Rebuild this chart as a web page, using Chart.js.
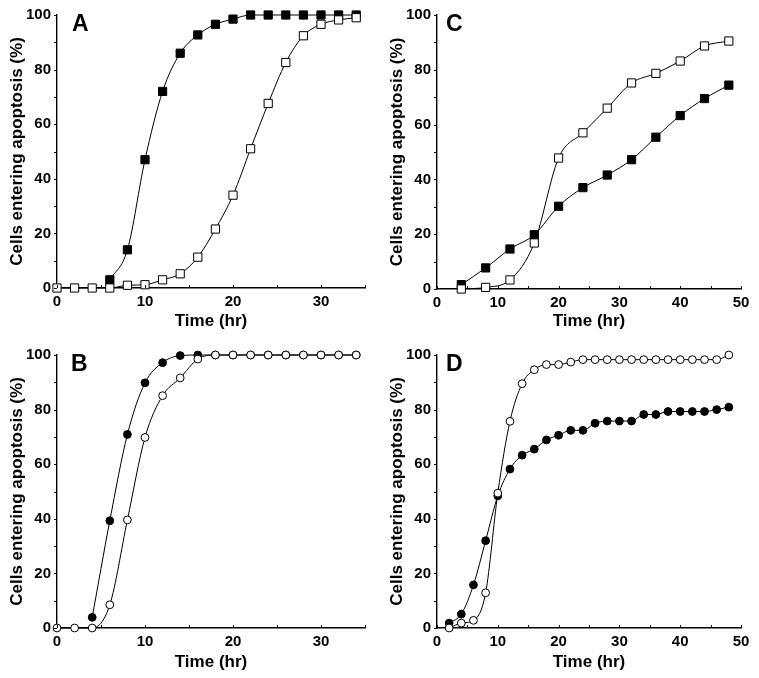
<!DOCTYPE html>
<html>
<head>
<meta charset="utf-8">
<title>Cells entering apoptosis</title>
<script src="https://cdn.jsdelivr.net/npm/chart.js@4/dist/chart.umd.min.js"></script>
<style>
  body { margin: 0; background: #fff; }
  #wrap { position: relative; width: 759px; height: 678px; overflow: hidden; }
  canvas { position: absolute; }
  .tag { position: absolute; font: bold 23px 'Liberation Sans', Arial, sans-serif; line-height: 23px; color: #000; }
</style>
</head>
<body>
<div id="wrap">
  <canvas id="cA" style="left:0;top:0"></canvas>
  <canvas id="cC" style="left:380px;top:0"></canvas>
  <canvas id="cB" style="left:0;top:336px"></canvas>
  <canvas id="cD" style="left:380px;top:336px"></canvas>
  <div class="tag" style="left:72px;top:12px">A</div>
  <div class="tag" style="left:446px;top:12px">C</div>
  <div class="tag" style="left:71px;top:352px">B</div>
  <div class="tag" style="left:446px;top:352px">D</div>
</div>
<script>
// panel A - squares
var timeA_filled = [6, 8, 10, 12, 14, 16, 18, 20, 22, 24, 26, 28, 30, 32, 34];
var pctA_filled  = [3, 14, 47, 72, 86, 92.7, 96.6, 98.5, 100, 100, 100, 100, 100, 100, 100];
var timeA_open   = [0, 2, 4, 6, 8, 10, 12, 14, 16, 18, 20, 22, 24, 26, 28, 30, 32, 34];
var pctA_open    = [0, 0, 0, 0, 1, 1.2, 3, 5.2, 11.3, 21.6, 34, 51, 67.6, 82.6, 92.4, 96.6, 98.2, 99];

// panel B - circles
var timeB_filled = [4, 6, 8, 10, 12, 14, 16, 18, 20, 22, 24, 26, 28, 30, 32, 34];
var pctB_filled  = [3.9, 39.3, 70.9, 89.8, 97.2, 99.8, 100, 100, 100, 100, 100, 100, 100, 100, 100, 100];
var timeB_open   = [0, 2, 4, 6, 8, 10, 12, 14, 16, 18, 20, 22, 24, 26, 28, 30, 32, 34];
var pctB_open    = [0, 0, 0, 8.5, 39.6, 69.8, 85.1, 91.6, 98.5, 100, 100, 100, 100, 100, 100, 100, 100, 100];

// panel C - squares
var timeC        = [4, 8, 12, 16, 20, 24, 28, 32, 36, 40, 44, 48];
var pctC_filled  = [1.6, 7.7, 14.6, 19.8, 30.2, 37, 41.6, 47.2, 55.4, 63.3, 69.5, 74.4];
var pctC_open    = [0, 0.6, 3.3, 16.8, 47.8, 57, 66, 75.2, 78.7, 83.2, 88.7, 90.5];

// panel D - circles
var timeD        = [2, 4, 6, 8, 10, 12, 14, 16, 18, 20, 22, 24, 26, 28, 30, 32, 34, 36, 38, 40, 42, 44, 46, 48];
var pctD_filled  = [1.8, 5.1, 15.8, 32, 48.4, 58.2, 63.3, 65.5, 68.9, 70.6, 72.4, 72.4, 75, 75.8, 75.8, 75.8, 78.2, 78.2, 79.3, 79.3, 79.3, 79.3, 80, 80.9];
var pctD_open    = [0, 1.8, 2.8, 12.9, 49.4, 75.7, 89.5, 94.6, 96.5, 96.5, 97.4, 98.3, 98.3, 98.3, 98.3, 98.3, 98.3, 98.3, 98.3, 98.3, 98.3, 98.3, 98.3, 100];

var yTicks = [0, 20, 40, 60, 80, 100];

var FONT = "'Liberation Sans', Arial, Helvetica, sans-serif";

function pts(xs, ys) {
  return xs.map(function (x, i) { return { x: x, y: ys[i] }; });
}

// small tick marks: x ticks point up into the plot, y ticks point out
var smallTicks = {
  id: 'smallTicks',
  afterDraw: function (chart) {
    var ctx = chart.ctx, a = chart.chartArea;
    var xs = chart.scales.x, ys = chart.scales.y;
    ctx.save();
    ctx.strokeStyle = '#111';
    ctx.lineWidth = 1;
    ctx.beginPath();
    for (var v = xs.min; v <= xs.max; v += 5) {
      var px = Math.round(xs.getPixelForValue(v)) + 0.5;
      ctx.moveTo(px, a.bottom);
      ctx.lineTo(px, a.bottom - 3);
    }
    for (var w = 0; w <= 100; w += 10) {
      var py = Math.round(ys.getPixelForValue(w)) + 0.5;
      ctx.moveTo(a.left, py);
      ctx.lineTo(a.left - 3, py);
    }
    ctx.stroke();
    ctx.restore();
  }
};

function makeChart(id, w, h, pad, xMax, openData, filledData, shape) {
  var cv = document.getElementById(id);
  cv.width = w; cv.height = h;
  cv.style.width = w + 'px'; cv.style.height = h + 'px';
  var r = shape === 'rect' ? 5.8 : 3.9;
  return new Chart(cv.getContext('2d'), {
    type: 'line',
    data: {
      datasets: [
        {
          data: openData,
          borderColor: '#000', borderWidth: 1,
          pointStyle: shape, pointRadius: r,
          pointBackgroundColor: '#fff', pointBorderColor: '#000', pointBorderWidth: 1,
          cubicInterpolationMode: 'monotone', fill: false, clip: false, order: 1
        },
        {
          data: filledData,
          borderColor: '#000', borderWidth: 1,
          pointStyle: shape, pointRadius: r,
          pointBackgroundColor: '#000', pointBorderColor: '#000', pointBorderWidth: 1,
          cubicInterpolationMode: 'monotone', fill: false, clip: false, order: 2
        }
      ]
    },
    options: {
      responsive: false,
      animation: false,
      events: [],
      layout: { padding: pad },
      plugins: { legend: { display: false }, tooltip: { enabled: false } },
      scales: {
        x: {
          type: 'linear', min: 0, max: xMax,
          afterFit: function (s) { s.height = pad.xh; },
          afterBuildTicks: function (s) {
            s.ticks = s.ticks.filter(function (t) { return t.value % 10 === 0; });
          },
          grid: { display: true, drawOnChartArea: false, drawTicks: false },
          border: { display: true, color: '#000', width: 1.4 },
          ticks: { stepSize: 10, padding: 5, color: '#000', font: { family: FONT, size: 15, weight: 'bold' } },
          title: { display: true, text: 'Time (hr)', color: '#000', padding: { top: 0, bottom: pad.tb },
                   font: { family: FONT, size: 17, weight: 'bold' } }
        },
        y: {
          type: 'linear', min: 0, max: 100,
          afterFit: function (s) { s.width = 57; },
          afterBuildTicks: function (s) {
            s.ticks = yTicks.map(function (v) { return { value: v }; });
          },
          grid: { display: true, drawOnChartArea: false, drawTicks: false },
          border: { display: true, color: '#000', width: 1.4 },
          ticks: { padding: 6, color: '#000', font: { family: FONT, size: 15, weight: 'bold' } },
          title: { display: true, text: 'Cells entering apoptosis (%)', color: '#000', padding: { top: 7, bottom: 0 },
                   font: { family: FONT, size: 17, weight: 'bold' } }
        }
      }
    },
    plugins: [smallTicks]
  });
}

makeChart('cA', 380, 336, { left: 0, right: 15, top: 15, bottom: 0, xh: 48, tb: 4 }, 35,
  pts(timeA_open, pctA_open), pts(timeA_filled, pctA_filled), 'rect');
makeChart('cC', 379, 336, { left: 0, right: 18, top: 15, bottom: 0, xh: 47, tb: 4 }, 50,
  pts(timeC, pctC_open), pts(timeC, pctC_filled), 'rect');
makeChart('cB', 380, 342, { left: 0, right: 15, top: 19, bottom: 0, xh: 50, tb: 5 }, 35,
  pts(timeB_open, pctB_open), pts(timeB_filled, pctB_filled), 'circle');
makeChart('cD', 379, 342, { left: 0, right: 18, top: 19, bottom: 0, xh: 50, tb: 5 }, 50,
  pts(timeD, pctD_open), pts(timeD, pctD_filled), 'circle');
</script>
</body>
</html>
